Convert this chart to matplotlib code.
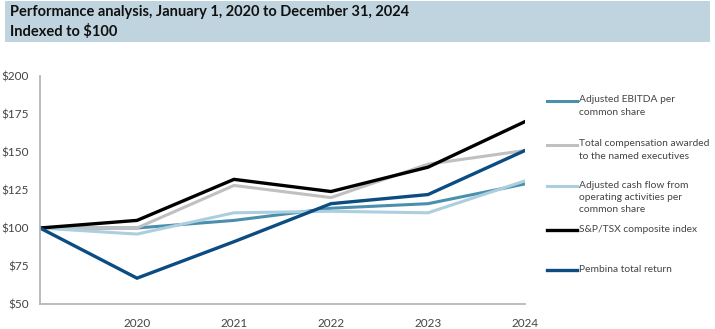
import matplotlib.pyplot as plt
from matplotlib.patches import Rectangle
from matplotlib.lines import Line2D

# --- Data (indexed to $100) ---
years = [2019, 2020, 2021, 2022, 2023, 2024]
year_labels = ["", "2020", "2021", "2022", "2023", "2024"]
ebitda = [100, 100, 105, 113, 116, 129]
compensation = [100, 100, 128, 120, 142, 151]
cash_flow = [100, 96, 110, 111, 110, 131]
tsx = [100, 105, 132, 124, 140, 170]
pembina = [100, 67, 91, 116, 122, 151]

series = [
    ("Adjusted EBITDA per\ncommon share", ebitda, "#4a8fad", 2.2),
    ("Total compensation awarded\nto the named executives", compensation, "#c0c0c2", 2.2),
    ("Adjusted cash flow from\noperating activities per\ncommon share", cash_flow, "#abcfdf", 2.2),
    ("S&P/TSX composite index", tsx, "#000000", 2.4),
    ("Pembina total return", pembina, "#0b4c82", 2.4),
]
yticks = [50, 75, 100, 125, 150, 175, 200]

plt.rcParams['font.family'] = ['Lato', 'DejaVu Sans']

fig = plt.figure(figsize=(7.15, 3.29), dpi=100)
W, H = 715, 329

# --- Title banner ---
fig.patches.append(Rectangle((5 / W, 1 - 42 / H), 705 / W, 41 / H, transform=fig.transFigure,
                             facecolor="#bfd4df", edgecolor="none", zorder=0))
fig.text(10 / W, 1 - 12 / H, "Performance analysis, January 1, 2020 to December 31, 2024",
         fontsize=10.5, fontweight="bold", va="center", ha="left", color="#111111")
fig.text(10 / W, 1 - 31 / H, "Indexed to $100",
         fontsize=10.5, fontweight="bold", va="center", ha="left", color="#111111")

# --- Plot area ---
ax = fig.add_axes([40 / W, 1 - 304 / H, 485 / W, 228 / H])
for name, vals, color, lw in series:
    ax.plot(years, vals, color=color, linewidth=lw, solid_joinstyle="miter")

ax.set_xlim(years[0], years[-1])
ax.set_ylim(50, 200)
ax.set_xticks(years)
ax.set_xticklabels(year_labels)
ax.set_yticks(yticks)
ax.set_yticklabels([f"${v}" for v in yticks])
ax.tick_params(axis="both", length=0, labelsize=8.5, colors="#444444")
ax.tick_params(axis="x", pad=10)
ax.tick_params(axis="y", pad=8)
for side in ["top", "right"]:
    ax.spines[side].set_visible(False)
for side in ["left", "bottom"]:
    ax.spines[side].set_color("#b0b0b0")
    ax.spines[side].set_linewidth(1.2)

# --- Legend (drawn by hand to match layout) ---
legend_y = [101, 145, 186, 230, 270]
for (name, vals, color, lw), ly in zip(series, legend_y):
    fy = 1 - ly / H
    fig.add_artist(Line2D([547 / W, 577 / W], [fy, fy], transform=fig.transFigure,
                          color=color, linewidth=lw))
    fig.text(579 / W, fy + 5.5 / H, name, fontsize=7.4, va="top", ha="left",
             color="#444444", linespacing=1.45)

fig.savefig("out.png", dpi=100)
